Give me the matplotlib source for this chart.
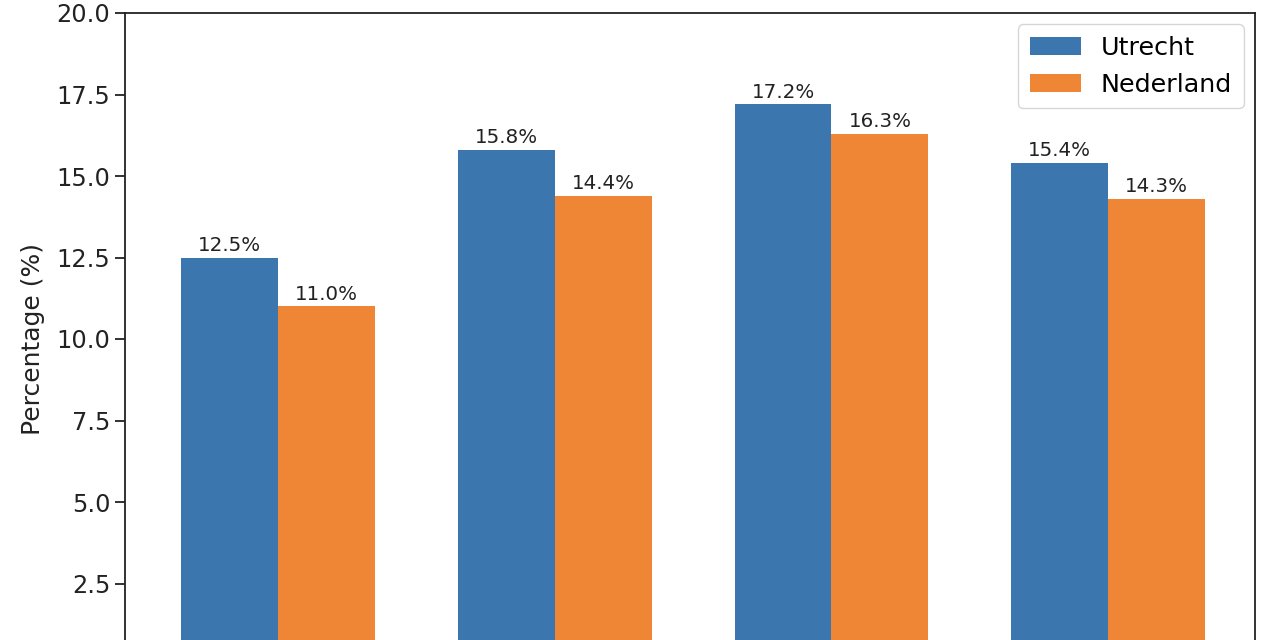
import matplotlib.pyplot as plt
import numpy as np

# Values (x-axis categories are cut off in the reference)
utrecht = [12.5, 15.8, 17.2, 15.4]
nederland = [11.0, 14.4, 16.3, 14.3]

x = np.arange(len(utrecht))
width = 0.35

fig = plt.figure(figsize=(12.8, 6.4), dpi=100)
# axes run past the bottom of the picture, as in the reference crop
ax = fig.add_axes([125 / 1280, -25 / 640, 1130 / 1280, 652 / 640])

b1 = ax.bar(x - width / 2, utrecht, width, color="#3b76af", label="Utrecht")
b2 = ax.bar(x + width / 2, nederland, width, color="#ef8636", label="Nederland")

for bars in (b1, b2):
    for bar in bars:
        h = bar.get_height()
        ax.annotate(f"{h:.1f}%", (bar.get_x() + bar.get_width() / 2, h),
                    xytext=(0, 2), textcoords="offset points",
                    ha="center", va="bottom", fontsize=14.3, color="#222222")

ax.set_ylim(0, 20)
ax.set_xlim(-0.552, 3.53)
# the 0.0 tick sits below the visible picture, so only label from 2.5 up
ax.set_yticks(np.arange(2.5, 20.1, 2.5))
ax.tick_params(axis="y", labelsize=17.3, length=7, width=1.3, colors="#222222")
ax.set_xticks(x)
ax.set_xticklabels([])
ax.set_ylabel("Percentage (%)", fontsize=18, color="#222222", labelpad=8)
for s in ax.spines.values():
    s.set_linewidth(1.3)
    s.set_color("#222222")
ax.legend(loc="upper right", fontsize=18.3, borderpad=0.45,
          bbox_to_anchor=(1, 1), borderaxespad=0.45, labelspacing=0.5)

fig.savefig("out.png", dpi=100)
